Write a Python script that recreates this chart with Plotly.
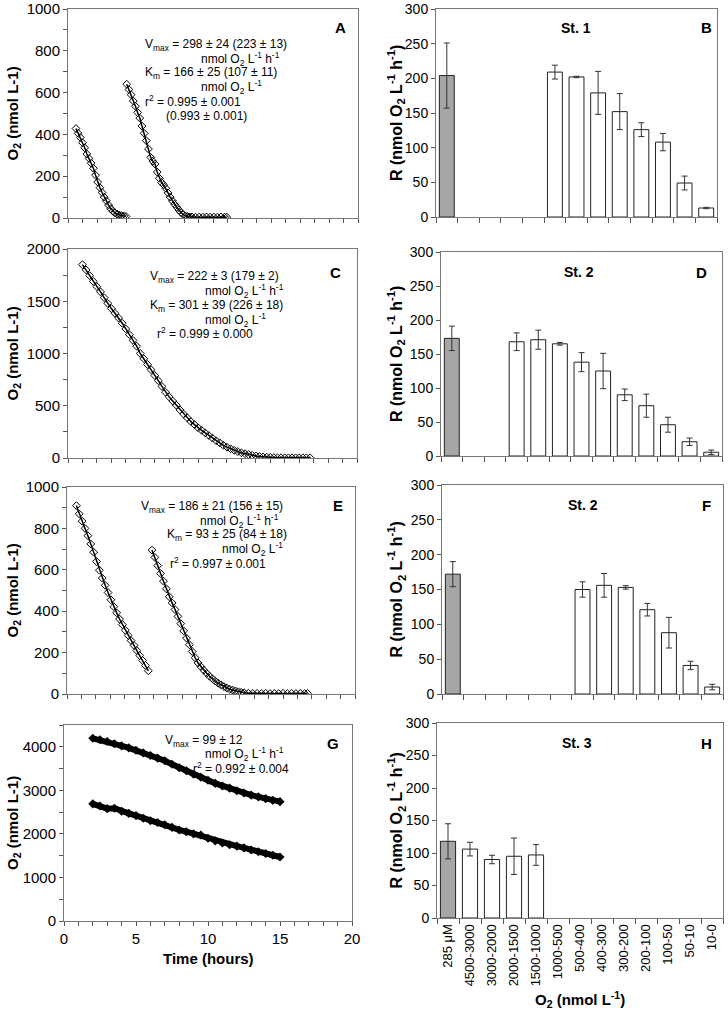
import plotly.graph_objects as go

W, H = 728, 1018
FONT = "Liberation Sans, Arial, sans-serif"

# ---------------- Panel A (time course) ----------------
a1_t = [0.55, 0.70, 0.85, 1.00, 1.15, 1.30, 1.45, 1.60, 1.75, 1.90, 2.05, 2.20, 2.35, 2.50,
        2.65, 2.80, 2.95, 3.10, 3.25, 3.40, 3.55, 3.70, 3.85, 4.00]
a1_o2 = [428, 405, 385, 360, 336, 306, 285, 262, 238, 205, 172, 145, 122, 100,
         82, 62, 45, 32, 24, 18, 14, 11, 9, 8]
a2_t = [4.05, 4.20, 4.35, 4.50, 4.65, 4.80, 4.95, 5.10, 5.25, 5.40, 5.55, 5.70, 5.85, 6.00,
        6.15, 6.30, 6.45, 6.60, 6.75, 6.90, 7.05, 7.20, 7.35, 7.50, 7.65, 7.80, 7.95, 8.10,
        8.25, 8.40, 8.55, 8.80, 9.05, 9.30, 9.55, 9.80, 10.05, 10.30, 10.55, 10.80, 10.95]
a2_o2 = [640, 615, 590, 560, 535, 505, 478, 440, 405, 370, 330, 290, 272, 258,
         220, 190, 170, 158, 142, 120, 100, 82, 66, 52, 38, 26, 16, 10,
         7, 5, 5, 4, 5, 4, 5, 4, 5, 4, 5, 4, 4]

# ---------------- Panel C ----------------
c_t = [1.00, 1.25, 1.50, 1.75, 2.00, 2.25, 2.50, 2.75, 3.00, 3.25, 3.50, 3.75, 4.00, 4.25,
       4.50, 4.75, 5.00, 5.25, 5.50, 5.75, 6.00, 6.25, 6.50, 6.75, 7.00, 7.25, 7.50, 7.75,
       8.00, 8.25, 8.50, 8.75, 9.00, 9.25, 9.50, 9.75, 10.00, 10.25, 10.50, 10.75, 11.00,
       11.25, 11.50, 11.75, 12.00, 12.25, 12.50, 12.75, 13.00, 13.25, 13.50, 13.75, 14.00,
       14.25, 14.50, 14.75, 15.00, 15.25, 15.50, 15.75, 16.00, 16.25, 16.50, 16.75]
c_o2 = [1850, 1800, 1745, 1690, 1640, 1590, 1535, 1480, 1430, 1385, 1340, 1290, 1235, 1180,
        1125, 1070, 1000, 950, 895, 845, 790, 740, 685, 630, 585, 545, 505, 460,
        420, 385, 350, 320, 290, 265, 240, 215, 190, 165, 145, 122, 104,
        88, 74, 62, 50, 41, 33, 26, 20, 15, 11, 8, 6,
        4, 3, 2, 2, 2, 2, 2, 2, 2, 2, 2]

# ---------------- Panel E ----------------
e1_t = [0.65, 0.85, 1.05, 1.25, 1.45, 1.65, 1.85, 2.05, 2.25, 2.45, 2.65, 2.85, 3.05, 3.25,
        3.45, 3.65, 3.85, 4.05, 4.25, 4.45, 4.65, 4.85, 5.05, 5.25, 5.45, 5.65]
e1_o2 = [910, 870, 835, 800, 765, 725, 685, 640, 598, 560, 525, 490, 455, 422,
         392, 362, 335, 308, 283, 258, 235, 210, 186, 162, 138, 112]
e2_t = [5.90, 6.10, 6.30, 6.50, 6.70, 6.90, 7.10, 7.30, 7.50, 7.70, 7.90, 8.10, 8.30, 8.50,
        8.70, 8.90, 9.10, 9.30, 9.50, 9.70, 9.90, 10.10, 10.30, 10.50, 10.70, 10.90, 11.10,
        11.30, 11.50, 11.70, 11.90, 12.10, 12.30, 12.60, 12.90, 13.20, 13.50, 13.80, 14.10,
        14.40, 14.70, 15.00, 15.30, 15.60, 15.90, 16.20, 16.50, 16.70]
e2_o2 = [695, 660, 620, 582, 545, 508, 470, 440, 408, 375, 340, 305, 270, 238,
         205, 175, 150, 132, 115, 100, 86, 73, 62, 52, 44, 36, 29,
         23, 19, 15, 11, 8, 6, 4, 3, 3, 2, 3, 2,
         3, 2, 3, 2, 3, 2, 3, 2, 3]

# ---------------- Panel G ----------------
g_t = [2.0, 2.5, 3.0, 3.5, 4.0, 4.5, 5.0, 5.5, 6.0, 6.5, 7.0, 7.5, 8.0, 8.5,
       9.0, 9.5, 10.0, 10.5, 11.0, 11.5, 12.0, 12.5, 13.0, 13.5, 14.0, 14.5, 15.0]
g_upper = [4195, 4160, 4120, 4070, 4020, 3975, 3920, 3860, 3800, 3740, 3680, 3600, 3520, 3450,
           3370, 3300, 3230, 3160, 3100, 3050, 2990, 2940, 2890, 2850, 2810, 2770, 2740]
g_lower = [2690, 2640, 2580, 2590, 2520, 2470, 2420, 2360, 2300, 2260, 2210, 2150, 2090, 2050,
           2000, 1975, 1900, 1840, 1790, 1750, 1720, 1680, 1630, 1590, 1550, 1510, 1470]

# ---------------- Bar panels ----------------
categories = ["285 μM", "4500-3000", "3000-2000", "2000-1500", "1500-1000", "1000-500",
              "500-400", "400-300", "300-200", "200-100", "100-50", "50-10", "10-0"]
b_rate = [204, None, None, None, None, 209, 202, 179, 152, 126, 108, 49, 13]
b_err = [47, 0, 0, 0, 0, 10, 1, 31, 26, 10, 12.5, 10, 1]
d_rate = [173, None, None, 168, 171, 165, 138, 125, 90, 74, 46, 21, 5.5]
d_err = [18, 0, 0, 13, 14, 2, 14, 26, 8.5, 17, 11, 5.4, 3.2]
f_rate = [172, None, None, None, None, None, 150, 156, 153, 121, 88, 41, 10]
f_err = [18, 0, 0, 0, 0, 0, 11, 17, 2.5, 9, 22, 6, 4]
h_rate = [118, 106, 90, 95, 97, None, None, None, None, None, None, None, None]
h_err = [27, 10.5, 6.5, 28, 16, 0, 0, 0, 0, 0, 0, 0, 0]

station_labels = ["St. 1", "St. 2", "St. 2", "St. 3"]
panel_letters_left = ["A", "C", "E", "G"]
panel_letters_right = ["B", "D", "F", "H"]


def fx(p):
    return p / W


def fy(p):
    return 1 - p / H


fig = go.Figure()

# pixel domains (x0, x1, ytop, ybottom)
left_dom = [(68, 358, 9, 218), (68, 357, 249, 458), (67, 355, 487, 694), (64, 352, 725, 921)]
right_dom = [(436, 717, 9, 217), (441, 722, 252, 456), (442, 723, 485, 694), (437, 723, 723, 918)]
left_ranges = [(0, 1000, 200, 100), (0, 2000, 500, 250), (0, 1000, 200, 100), (0, 4500, 1000, 500)]

axis_common = dict(showline=True, linecolor="#777", linewidth=1, mirror=True,
                   ticks="outside", ticklen=4, tickcolor="#555", showgrid=False,
                   zeroline=False, automargin=False)

layout = dict(width=W, height=H, margin=dict(l=0, r=0, t=0, b=0, autoexpand=False),
              plot_bgcolor="white", paper_bgcolor="white", showlegend=False,
              bargap=0.31, font=dict(family=FONT, color="#000"))

for i in range(4):
    li = 2 * i + 1  # left axis index
    ri = 2 * i + 2  # right axis index
    x0, x1, yt, yb = left_dom[i]
    r0, r1, dt, mdt = left_ranges[i]
    layout["xaxis%d" % li] = dict(axis_common, domain=[fx(x0), fx(x1)], anchor="y%d" % li,
                                  range=[0, 20], dtick=5, tick0=0,
                                  showticklabels=(i == 3),
                                  tickfont=dict(family=FONT, size=15, color="#000"),
                                  minor=dict(dtick=1, ticks="outside", ticklen=4, tickcolor="#555"))
    layout["yaxis%d" % li] = dict(axis_common, domain=[fy(yb), fy(yt)], anchor="x%d" % li,
                                  range=[r0, r1], dtick=dt, tick0=0,
                                  tickfont=dict(family=FONT, size=15, color="#000"),
                                  minor=dict(dtick=mdt, ticks="outside", ticklen=4, tickcolor="#555"))
    x0, x1, yt, yb = right_dom[i]
    layout["xaxis%d" % ri] = dict(axis_common, domain=[fx(x0), fx(x1)], anchor="y%d" % ri,
                                  type="category", tickson="boundaries", ticklen=5,
                                  range=[-0.5, 12.5], showticklabels=(i == 3), tickangle=-90,
                                  tickfont=dict(family=FONT, size=13, color="#000"))
    layout["yaxis%d" % ri] = dict(axis_common, domain=[fy(yb), fy(yt)], anchor="x%d" % ri,
                                  range=[0, 300], dtick=50, tick0=0,
                                  tickfont=dict(family=FONT, size=14, color="#000"))

fig.update_layout(**layout)


def add_curve(t, o2, ax):
    fig.add_trace(go.Scatter(x=t, y=o2, mode="lines+markers", xaxis="x%d" % ax, yaxis="y%d" % ax,
                             line=dict(color="#000", width=1.5),
                             marker=dict(symbol="diamond-open", size=6, color="#000",
                                         line=dict(width=1, color="#000"))))


add_curve(a1_t, a1_o2, 1)
add_curve(a2_t, a2_o2, 1)
add_curve(c_t, c_o2, 3)
add_curve(e1_t, e1_o2, 5)
add_curve(e2_t, e2_o2, 5)
for series in (g_upper, g_lower):
    fig.add_trace(go.Scatter(x=g_t, y=series, mode="lines+markers", xaxis="x7", yaxis="y7",
                             line=dict(color="#000", width=6),
                             marker=dict(symbol="diamond", size=7, color="#000")))

bar_sets = [(b_rate, b_err), (d_rate, d_err), (f_rate, f_err), (h_rate, h_err)]
bar_colors = ["#a6a6a6"] + ["#ffffff"] * 12
for i, (vals, errs) in enumerate(bar_sets):
    ax = 2 * i + 2
    fig.add_trace(go.Bar(x=categories, y=vals, xaxis="x%d" % ax, yaxis="y%d" % ax,
                         marker=dict(color=bar_colors, line=dict(color="#222", width=1)),
                         error_y=dict(type="data", array=errs, color="#333",
                                      thickness=1, width=3)))

ann = []


def text(px_, py_, s, size=12, bold=False, xanchor="left", angle=0):
    if bold:
        s = "<b>%s</b>" % s
    ann.append(dict(x=fx(px_), y=fy(py_), xref="paper", yref="paper", text=s, showarrow=False,
                    xanchor=xanchor, yanchor="middle", textangle=angle,
                    font=dict(family=FONT, size=size, color="#000")))


# y-axis titles
left_title = "O<sub>2</sub> (nmol L-1)"
right_title = "R (nmol O<sub>2</sub> L<sup>-1</sup> h<sup>-1</sup>)"
for i in range(4):
    x0, x1, yt, yb = left_dom[i]
    text(13, (yt + yb) / 2, left_title, size=15, bold=True, xanchor="center", angle=-90)
    x0, x1, yt, yb = right_dom[i]
    text(396, (yt + yb) / 2, right_title, size=16, bold=True, xanchor="center", angle=-90)

# x-axis titles
text(208, 958, "Time (hours)", size=15, bold=True, xanchor="center")
text(580, 999, "O<sub>2</sub> (nmol L<sup>-1</sup>)", size=15, bold=True, xanchor="center")

# panel letters and station labels
left_letter_pos = [(340, 28), (335, 272), (338, 505), (333, 743)]
right_letter_pos = [(706, 28), (701, 272), (706, 505), (706, 743)]
station_pos = [(576, 28), (579, 272), (583, 505), (577, 743)]
for i in range(4):
    text(*left_letter_pos[i], panel_letters_left[i], size=15, bold=True, xanchor="center")
    text(*right_letter_pos[i], panel_letters_right[i], size=15, bold=True, xanchor="center")
    text(*station_pos[i], station_labels[i], size=14, bold=True, xanchor="center")

VM = "V<sub>max</sub>"
KM = "K<sub>m</sub>"
R2 = "r<sup>2</sup>"
U1 = "nmol O<sub>2</sub> L<sup>-1</sup> h<sup>-1</sup>"
U2 = "nmol O<sub>2</sub> L<sup>-1</sup>"

# Panel A kinetics text
text(143, 45, VM + " = 298 ± 24 (223 ± 13)")
text(199, 59, U1)
text(143, 73, KM + " = 166 ± 25 (107 ± 11)")
text(199, 87, U2)
text(143, 101, R2 + " = 0.995 ± 0.001")
text(164, 116, "(0.993 ± 0.001)")
# Panel C
text(148, 277, VM + " = 222 ± 3 (179 ± 2)")
text(203, 291, U1)
text(148, 306, KM + " = 301 ± 39 (226 ± 18)")
text(203, 320, U2)
text(155, 333, R2 + " = 0.999 ± 0.000")
# Panel E
text(139, 507, VM + " = 186 ± 21 (156 ± 15)")
text(198, 521, U1)
text(165, 535, KM + " = 93 ± 25 (84 ± 18)")
text(220, 549, U2)
text(168, 563, R2 + " = 0.997 ± 0.001")
# Panel G
text(163, 741, VM + " = 99 ± 12")
text(203, 754, U1)
text(191, 768, R2 + " = 0.992 ± 0.004")

fig.update_layout(annotations=ann)
fig.write_html("out.html", config={"displayModeBar": False},
               post_script="document.body.style.margin='0';")
